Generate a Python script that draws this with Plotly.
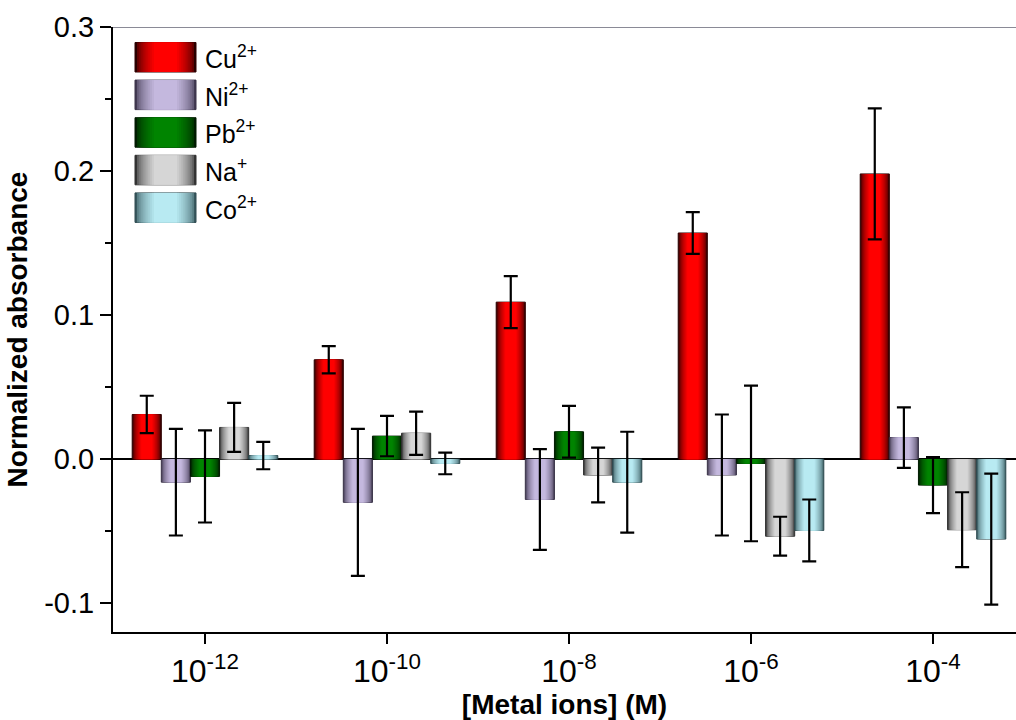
import plotly.graph_objects as go

# Concentration groups on the x axis
concentrations = ["10<sup>-12</sup>", "10<sup>-10</sup>", "10<sup>-8</sup>",
                  "10<sup>-6</sup>", "10<sup>-4</sup>"]
group_pos = [0, 1, 2, 3, 4]

# Normalized absorbance per ion (mean) and its standard deviation
cu = [0.031, 0.069, 0.109, 0.157, 0.198]
cu_err = [0.013, 0.0095, 0.018, 0.0145, 0.0455]
ni = [-0.016, -0.030, -0.028, -0.011, 0.015]
ni_err = [0.037, 0.051, 0.035, 0.042, 0.021]
pb = [-0.012, 0.016, 0.019, -0.003, -0.018]
pb_err = [0.032, 0.014, 0.018, 0.054, 0.0195]
na = [0.022, 0.018, -0.011, -0.0535, -0.049]
na_err = [0.017, 0.015, 0.019, 0.0135, 0.026]
co = [0.0025, -0.003, -0.016, -0.0495, -0.0555]
co_err = [0.0095, 0.0075, 0.035, 0.0215, 0.0455]

series_names = ["Cu<sup>2+</sup>", "Ni<sup>2+</sup>", "Pb<sup>2+</sup>", "Na<sup>+</sup>", "Co<sup>2+</sup>"]
series_values = [cu, ni, pb, na, co]
series_errors = [cu_err, ni_err, pb_err, na_err, co_err]

# (edge colour, centre colour) for the cylinder-like shading of each series
shades = [
    ((40, 0, 0), (255, 0, 0)),
    ((66, 58, 82), (196, 184, 222)),
    ((0, 28, 0), (0, 132, 0)),
    ((52, 52, 52), (214, 214, 214)),
    ((56, 88, 94), (184, 234, 242)),
]
outline = ["#300000", "#3a3348", "#001a00", "#303030", "#2e4a50"]


def mix(c1, c2, t):
    return "#%02x%02x%02x" % tuple(round(a + (b - a) * t) for a, b in zip(c1, c2))


N_LAYERS = 10
BAR_W = 0.16
GROUP_START = -0.4
layer_frac = [1 - k * (0.62 / (N_LAYERS - 1)) for k in range(N_LAYERS)]
layer_t = [(k / (N_LAYERS - 1)) ** 0.55 for k in range(N_LAYERS)]

fig = go.Figure()

for i, (name, vals, errs) in enumerate(zip(series_names, series_values, series_errors)):
    dark, bright = shades[i]
    left = GROUP_START + BAR_W * i
    for k in range(N_LAYERS):
        w = BAR_W * layer_frac[k]
        last = k == N_LAYERS - 1
        fig.add_trace(go.Bar(
            x=group_pos, y=vals, name=name,
            width=w, offset=left + (BAR_W - w) / 2,
            marker=dict(color=mix(dark, bright, layer_t[k]),
                        line=dict(width=1 if k == 0 else 0, color=outline[i])),
            error_y=dict(type="data", array=errs, visible=True, color="black",
                         thickness=2.2, width=7) if last else None,
            showlegend=False, hoverinfo="skip" if not last else None,
        ))

# Plot-area geometry in pixels, used to place the legend block
W, H = 1016, 720
M_L, M_R, M_T, M_B = 113, 0, 27, 88
PW, PH = W - M_L - M_R, H - M_T - M_B


def px_x(x):
    return (x - M_L) / PW


def px_y(y):
    return (H - M_B - y) / PH


shapes = []
annotations = []
sw_x0, sw_x1 = 135, 196
sw_top, sw_h, sw_step = 42.5, 29.5, 37.6
for i, name in enumerate(series_names):
    dark, bright = shades[i]
    y0 = sw_top + i * sw_step
    y1 = y0 + sw_h
    for k in range(N_LAYERS):
        half = (sw_x1 - sw_x0) * layer_frac[k] / 2
        cx = (sw_x0 + sw_x1) / 2
        shapes.append(dict(type="rect", xref="paper", yref="paper",
                           x0=px_x(cx - half), x1=px_x(cx + half),
                           y0=px_y(y1), y1=px_y(y0),
                           fillcolor=mix(dark, bright, layer_t[k]),
                           line=dict(width=1 if k == 0 else 0, color=outline[i]),
                           layer="above"))
    annotations.append(dict(xref="paper", yref="paper", x=px_x(203), y=px_y((y0 + y1) / 2),
                            text=name, showarrow=False, xanchor="left", yanchor="middle",
                            font=dict(family="Liberation Sans, Arial", size=25, color="black")))

# light top frame line
shapes.append(dict(type="line", xref="paper", yref="y", x0=0, x1=1, y0=0.3, y1=0.3,
                   line=dict(color="#8a8a96", width=2), layer="above"))

fig.update_layout(
    width=W, height=H,
    margin=dict(l=M_L, r=M_R, t=M_T, b=M_B, pad=0),
    barmode="overlay",
    paper_bgcolor="white", plot_bgcolor="white",
    shapes=shapes, annotations=annotations,
    font=dict(family="Liberation Sans, Arial", color="black"),
)

fig.update_xaxes(
    range=[-0.5055, 4.456],
    tickvals=group_pos, ticktext=concentrations,
    showline=True, linecolor="black", linewidth=2,
    ticks="outside", ticklen=10, tickwidth=1.5, tickcolor="black",
    tickfont=dict(family="Liberation Sans, Arial", size=32),
    showgrid=False, zeroline=False,
    title=dict(text="<b>[Metal ions] (M)</b>", standoff=4,
               font=dict(family="Liberation Sans, Arial", size=28)),
)

fig.update_yaxes(
    range=[-0.12, 0.3],
    tickvals=[-0.1, 0.0, 0.1, 0.2, 0.3],
    ticktext=["-0.1", "0.0", "0.1", "0.2", "0.3"],
    showline=True, linecolor="black", linewidth=2,
    ticks="outside", ticklen=11, tickwidth=1.5, tickcolor="black",
    minor=dict(tickvals=[-0.05, 0.05, 0.15, 0.25], ticks="outside", ticklen=6,
               tickwidth=1.5, tickcolor="black"),
    tickfont=dict(family="Liberation Sans, Arial", size=29),
    showgrid=False,
    zeroline=True, zerolinecolor="black", zerolinewidth=1.5,
    title=dict(text="<b>Normalized absorbance</b>", standoff=8,
               font=dict(family="Liberation Sans, Arial", size=28)),
)

fig.write_html("out.html")
